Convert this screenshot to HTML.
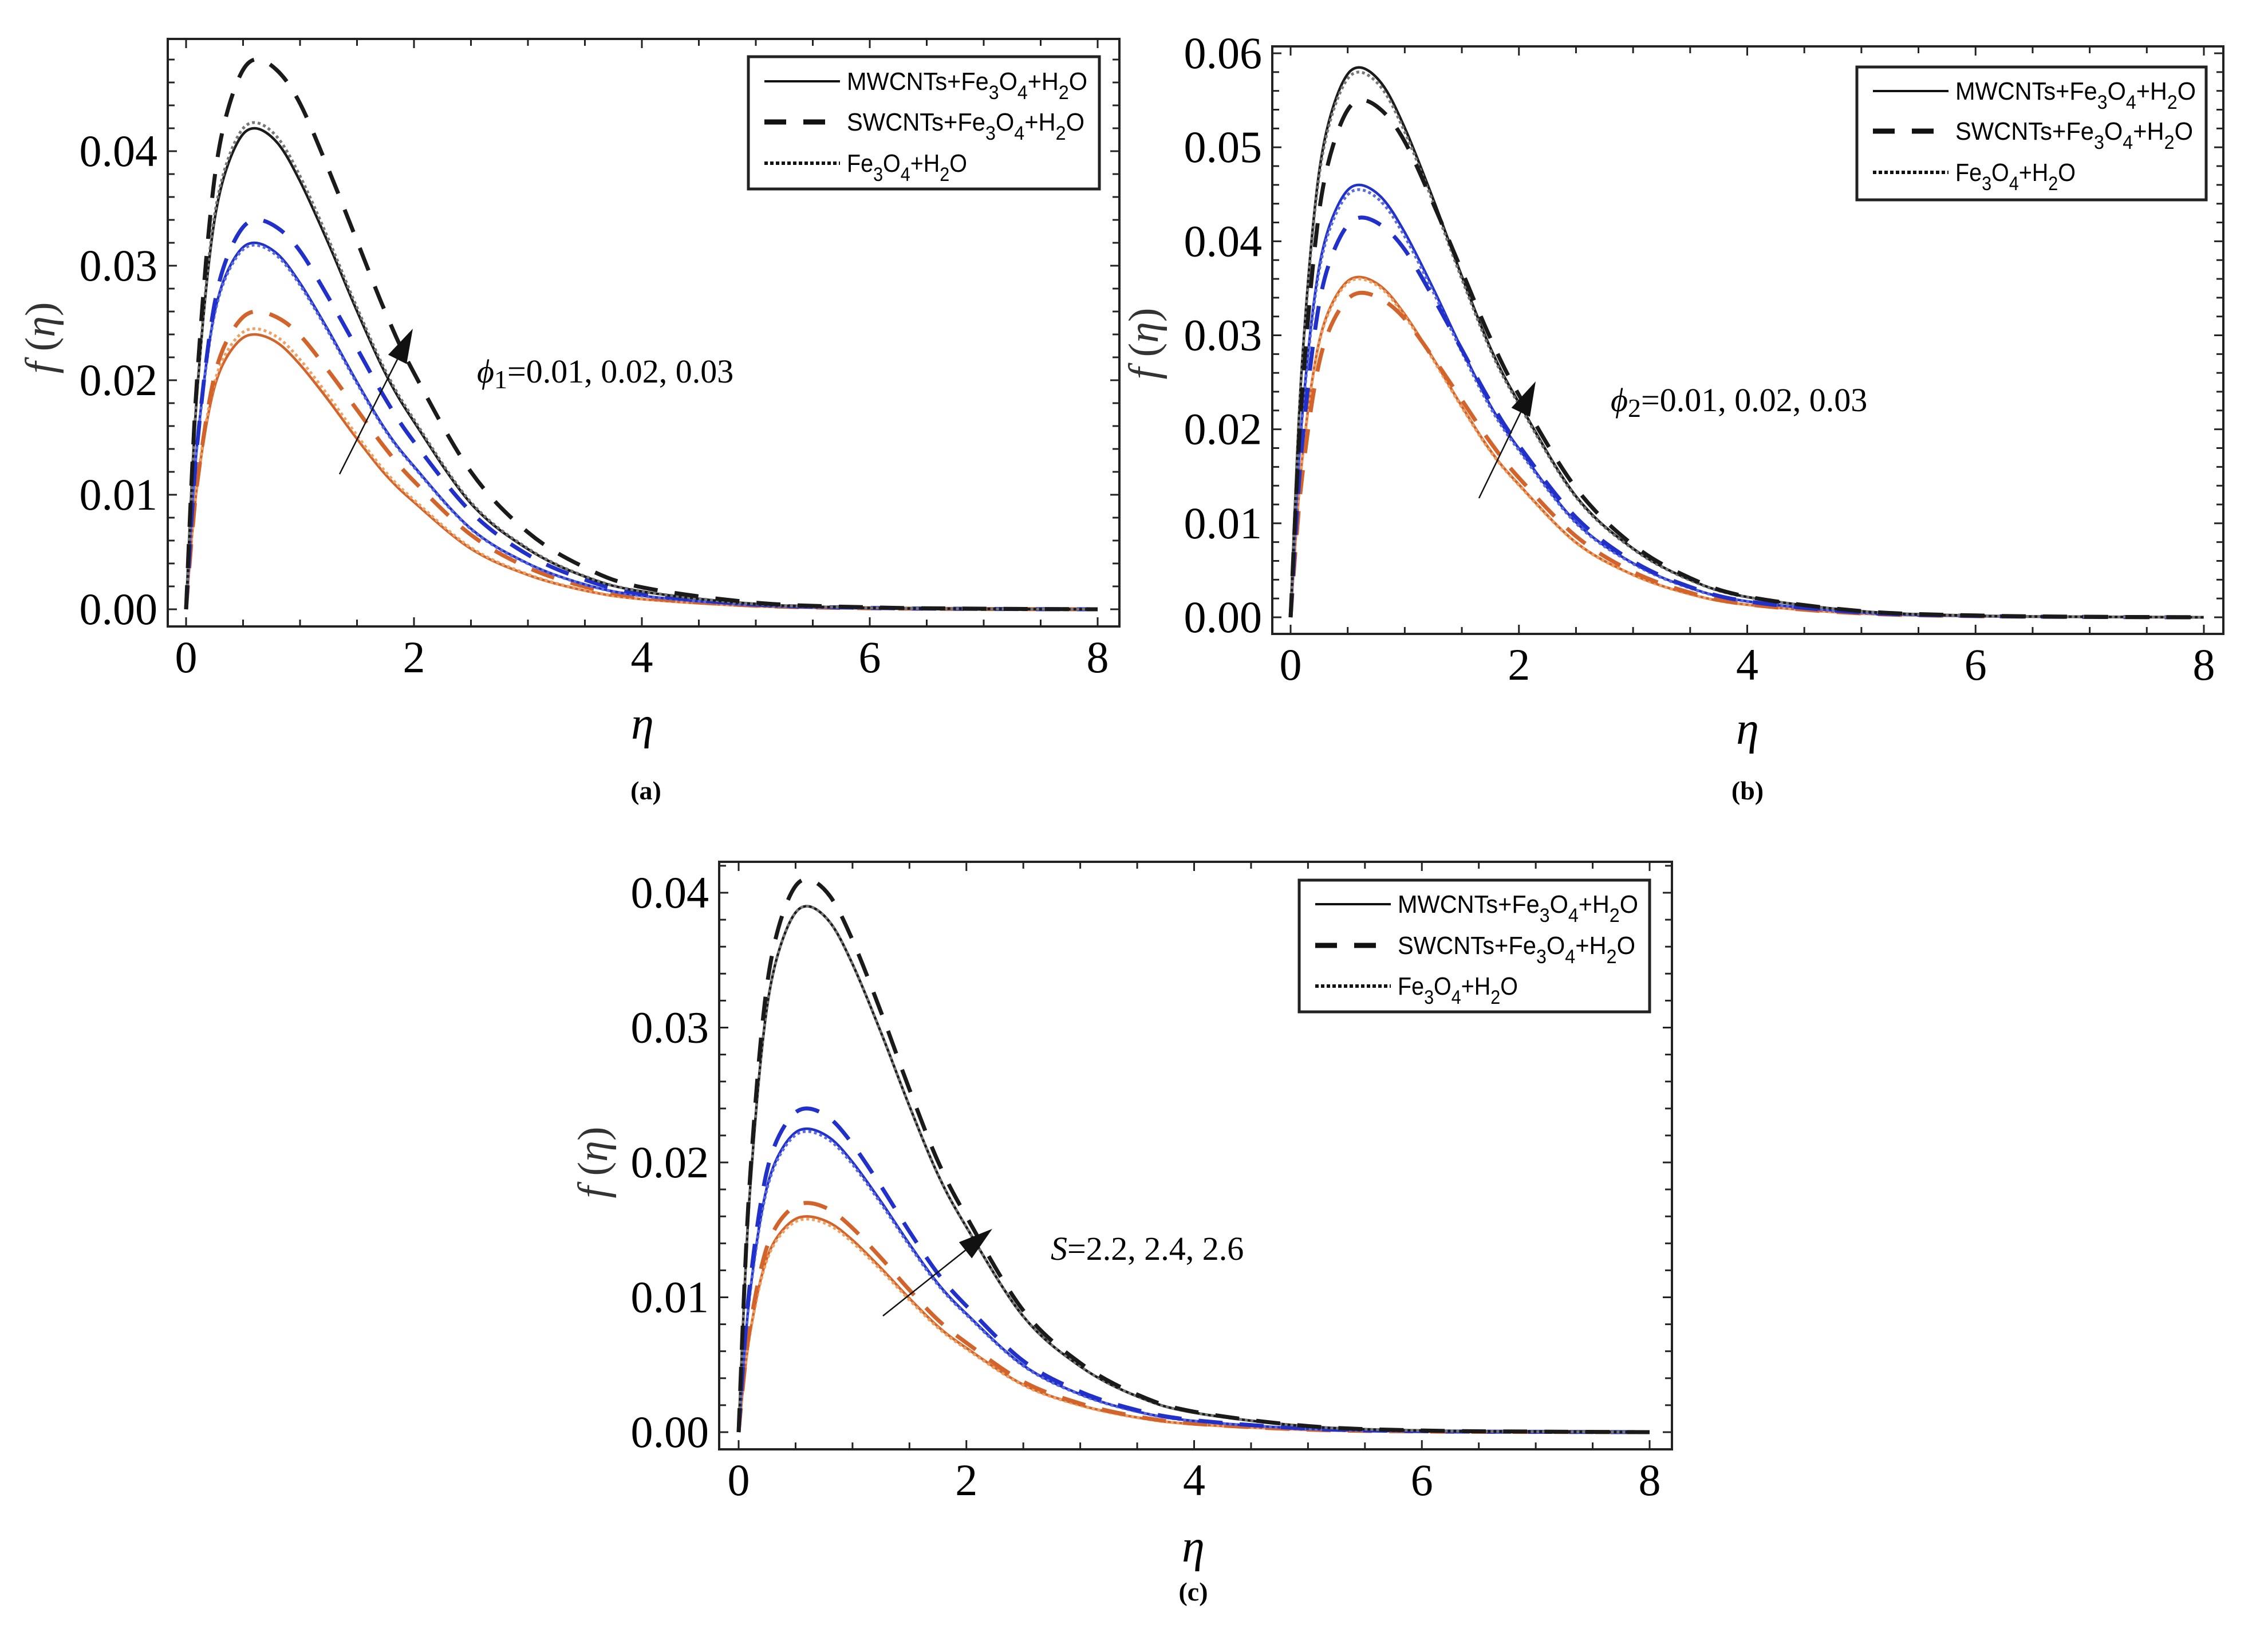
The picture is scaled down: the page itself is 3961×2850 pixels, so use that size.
<!DOCTYPE html>
<html><head><meta charset="utf-8"><style>
html,body{margin:0;padding:0;background:#fff;}
svg{display:block;}
</style></head>
<body>
<svg id="fig" width="3961" height="2850" viewBox="0 0 3961 2850" xmlns="http://www.w3.org/2000/svg"></svg>
<script>
// ---- data ----
const etaPts = [0,0.05,0.1,0.2,0.3,0.45,0.6,0.8,1.0,1.25,1.5,1.75,2,2.5,3,3.5,4,5,6,7,8];
const shapeSolid = [0,0.26,0.46,0.72,0.87,0.97,1.0,0.97,0.89,0.76,0.62,0.49,0.39,0.22,0.125,0.068,0.037,0.011,0.003,0.001,0];
const shapeDashed = [0,0.24,0.43,0.69,0.85,0.96,1.0,0.98,0.92,0.80,0.67,0.54,0.43,0.25,0.14,0.076,0.04,0.012,0.0035,0.001,0];
const seriesNames = ["MWCNTs+Fe3O4+H2O","SWCNTs+Fe3O4+H2O","Fe3O4+H2O"];
// peaks per parameter level [low, mid, high] for [solid, dashed, dotted]
const peaksA_solid = [0.024,0.032,0.042];
const peaksA_dashed = [0.026,0.034,0.048];
const peaksA_dotted = [0.0245,0.0318,0.0425];
const peaksB_solid = [0.0362,0.046,0.0585];
const peaksB_dashed = [0.0345,0.0425,0.055];
const peaksB_dotted = [0.036,0.0455,0.058];
const peaksC_solid = [0.016,0.0225,0.039];
const peaksC_dashed = [0.017,0.024,0.041];
const peaksC_dotted = [0.0158,0.0223,0.039];
const xTicks = [0,2,4,6,8];
const yTicksA = [0,0.01,0.02,0.03,0.04];
const yTicksB = [0,0.01,0.02,0.03,0.04,0.05,0.06];
const yTicksC = [0,0.01,0.02,0.03,0.04];

const NS="http://www.w3.org/2000/svg";
const svg=document.getElementById('fig');
function el(tag,attrs,parent){const e=document.createElementNS(NS,tag);for(const k in attrs)e.setAttribute(k,attrs[k]);(parent||svg).appendChild(e);return e;}
const colors=["#d2632a","#2030c8","#1a1a1a"];
function smoothPath(pts){
 let d='M'+pts[0][0].toFixed(1)+','+pts[0][1].toFixed(1);
 for(let i=0;i<pts.length-1;i++){
  const p0=pts[Math.max(0,i-1)],p1=pts[i],p2=pts[i+1],p3=pts[Math.min(pts.length-1,i+2)];
  const c1x=p1[0]+(p2[0]-p0[0])/6,c1y=p1[1]+(p2[1]-p0[1])/6;
  const c2x=p2[0]-(p3[0]-p1[0])/6,c2y=p2[1]-(p3[1]-p1[1])/6;
  d+=`C${c1x.toFixed(1)},${c1y.toFixed(1)} ${c2x.toFixed(1)},${c2y.toFixed(1)} ${p2[0].toFixed(1)},${p2[1].toFixed(1)}`;
 }
 return d;
}

const panels=[
 {id:'a',frame:[293,68,1955,1094],x0:325,x8:1917,y0:1064,yPer:20000,yTicks:yTicksA,dshape:shapeDashed,
  peaks:[peaksA_solid,peaksA_dashed,peaksA_dotted],leg:[1307,99,1920,330],legRows:[142,213,285],
  ann:{x:833,y:668,pre:'ϕ',sub:'1',rest:'=0.01, 0.02, 0.03'},arrow:[593,828,721,574],
  eta:[1122,1290],lab:[1128,1396,'(a)'],ylab:[95,590]},
 {id:'b',frame:[2222,81,3883,1107],x0:2254,x8:3849,y0:1078,yPer:16416,yTicks:yTicksB,dshape:shapeDashed,
  peaks:[peaksB_solid,peaksB_dashed,peaksB_dotted],leg:[3243,117,3853,349],legRows:[159,229,301],
  ann:{x:2813,y:718,pre:'ϕ',sub:'2',rest:'=0.01, 0.02, 0.03'},arrow:[2583,870,2682,666],
  eta:[3052,1299],lab:[3052,1396,'(b)'],ylab:[2022,600]},
 {id:'c',frame:[1256,1505,2920,2531],x0:1290,x8:2881,y0:2501,yPer:23550,yTicks:yTicksC,dshape:shapeSolid,
  peaks:[peaksC_solid,peaksC_dashed,peaksC_dotted],leg:[2269,1537,2881,1767],legRows:[1579,1651,1722],
  ann:{x:1835,y:2200,pre:'S',sub:'',rest:'=2.2, 2.4, 2.6'},arrow:[1542,2298,1733,2146],
  eta:[2084,2727],lab:[2084,2795,'(c)'],ylab:[1060,2030]}
];

panels.forEach(p=>{
 const g=el('g',{});
 
 
 const [L,T,R,B]=p.frame;
 const X=v=>p.x0+(p.x8-p.x0)*v/8;
 const Y=v=>p.y0-v*p.yPer;
 const fr=el('rect',{x:L,y:T,width:R-L,height:B-T,fill:'none',stroke:'#222','stroke-width':4},g);
 
 
 for(let i=0;i<=16;i++){const v=i*0.5,x=X(v),len=(i%4===0)?16:12;
  el('line',{x1:x,y1:B,x2:x,y2:B-len,stroke:'#222','stroke-width':3},g);
  el('line',{x1:x,y1:T,x2:x,y2:T+len,stroke:'#222','stroke-width':3},g);}
 for(let i=0;;i++){const v=i*0.002;if(Y(v)<T+2)break;const y=Y(v),len=(i%5===0)?16:12;
  el('line',{x1:L,y1:y,x2:L+len,y2:y,stroke:'#222','stroke-width':3},g);
  el('line',{x1:R,y1:y,x2:R-len,y2:y,stroke:'#222','stroke-width':3},g);}
 xTicks.forEach(v=>{const t=el('text',{x:X(v),y:B+80,'font-family':'Liberation Serif, serif','font-size':78,'text-anchor':'middle'},g);t.textContent=v;
  
  });
 p.yTicks.forEach(v=>{const t=el('text',{x:L-18,y:Y(v)+26,'font-family':'Liberation Serif, serif','font-size':78,'text-anchor':'end'},g);t.textContent=v.toFixed(2);
  
  });
 const styles=[{sh:shapeSolid,dash:null,w:4.5},{sh:p.dshape,dash:'42 30',w:7},{sh:shapeSolid,dash:'5 5',w:5}];
 [0,1,2].forEach(lvl=>{
  [0,2,1].forEach(s=>{
   const st=styles[s];const pk=p.peaks[s][lvl];
   const pts=etaPts.map((e,i)=>[X(e),Y(pk*st.sh[i])]);
   const a={d:smoothPath(pts),fill:'none',stroke:colors[lvl],'stroke-width':st.w,'stroke-linejoin':'round'};
   if(st.dash)a['stroke-dasharray']=st.dash;
   if(s===2){a.stroke=lvl===2?'#777':(lvl===1?'#5a6ae0':'#f0a060');}
   const path=el('path',a,g);
   
   
  });
 });
 const [lx1,ly1,lx2,ly2]=p.leg;
 const lg=el('g',{},g);
 
 
 el('rect',{x:lx1,y:ly1,width:lx2-lx1,height:ly2-ly1,fill:'#fff',stroke:'#222','stroke-width':5},lg);
 const legDash=[null,'38 30','6 4'];const legW=[4,9,6];
 const legText=[['MWCNTs+Fe','3','O','4','+H','2','O'],['SWCNTs+Fe','3','O','4','+H','2','O'],['Fe','3','O','4','+H','2','O']];
 const legLen=[420,415,210];
 p.legRows.forEach((ry,i)=>{
  const la={x1:lx1+28,y1:ry,x2:lx1+160,y2:ry,stroke:'#111','stroke-width':legW[i]};
  if(legDash[i])la['stroke-dasharray']=legDash[i];
  const ln=el('line',la,lg);
  
  
  const t=el('text',{x:lx1+172,y:ry+15,'font-family':'Liberation Sans, sans-serif','font-size':44,textLength:legLen[i],lengthAdjust:'spacingAndGlyphs'},lg);
  
  
  legText[i].forEach((part,k)=>{const ts=el('tspan',{},t);
   if(k%2===1){ts.setAttribute('dy',16);ts.setAttribute('font-size',34);}
   else if(k>0){ts.setAttribute('dy',-16);}
   ts.textContent=part;});
 });
 const an=el('text',{x:p.ann.x,y:p.ann.y,'font-family':'Liberation Serif, serif','font-size':58},g);
 
 
 const t1=el('tspan',{'font-style':'italic'},an);t1.textContent=p.ann.pre;
 if(p.ann.sub){const t2=el('tspan',{dy:10,'font-size':46},an);t2.textContent=p.ann.sub;
  const t3=el('tspan',{dy:-10},an);t3.textContent=p.ann.rest;}
 else{const t3=el('tspan',{},an);t3.textContent=p.ann.rest;}
 const [ax1,ay1,ax2,ay2]=p.arrow;
 const ag=el('g',{},g);
 
 
 const ang=Math.atan2(ay2-ay1,ax2-ax1),hl=60,hw=18;
 const bx=ax2-hl*Math.cos(ang),by=ay2-hl*Math.sin(ang);
 el('line',{x1:ax1,y1:ay1,x2:bx,y2:by,stroke:'#111','stroke-width':2.5},ag);
 el('polygon',{points:`${ax2},${ay2} ${bx+hw*Math.sin(ang)},${by-hw*Math.cos(ang)} ${bx-hw*Math.sin(ang)},${by+hw*Math.cos(ang)}`,fill:'#111'},ag);
 const xl=el('text',{x:p.eta[0],y:p.eta[1],'font-family':'Liberation Serif, serif','font-size':80,'font-style':'italic','text-anchor':'middle'},g);
 xl.textContent='η';
 
 
 const yl=el('text',{x:p.ylab[0],y:p.ylab[1],'font-family':'Liberation Serif, serif','font-size':74,'text-anchor':'middle',transform:`rotate(-90 ${p.ylab[0]} ${p.ylab[1]})`,fill:'#333'},g);
 
 
 const y1=el('tspan',{'font-style':'italic'},yl);y1.textContent='f ';
 const y2=el('tspan',{},yl);y2.textContent='(';
 const y3=el('tspan',{'font-style':'italic'},yl);y3.textContent='η';
 const y4=el('tspan',{},yl);y4.textContent=')';
 const pl=el('text',{x:p.lab[0],y:p.lab[1],'font-family':'Liberation Serif, serif','font-size':46,'font-weight':'bold','text-anchor':'middle'},g);
 pl.textContent=p.lab[2];
 
 
});
</script>
</body></html>
